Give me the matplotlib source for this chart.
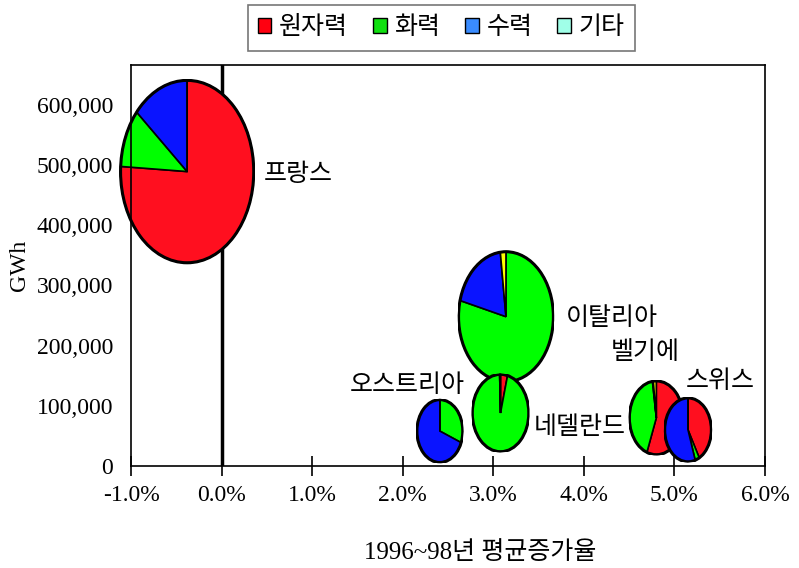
import matplotlib
matplotlib.use("Agg")
import matplotlib.pyplot as plt
import numpy as np
from matplotlib.patches import Patch
from matplotlib.ticker import FuncFormatter

# Generation by country: average growth 1996-98 (%), total generation (GWh)
countries = ["프랑스", "이탈리아", "네델란드", "오스트리아", "벨기에", "스위스"]
growth = [-0.38, 3.14, 3.08, 2.41, 4.80, 5.15]
total_gwh = [489000, 248000, 88000, 58000, 80000, 60000]

# Generation mix shares (%)
nuclear = [75.9, 0.0, 4.0, 0.0, 55.7, 42.0]
thermal = [10.4, 79.0, 95.5, 31.0, 42.0, 3.0]
hydro = [13.7, 19.1, 0.0, 69.0, 0.5, 55.0]
other = [0.0, 1.9, 0.5, 0.0, 1.8, 0.0]

source_labels = ["원자력", "화력", "수력", "기타"]
x_ticks = [-1, 0, 1, 2, 3, 4, 5, 6]
y_ticks = [0, 100000, 200000, 300000, 400000, 500000, 600000]

# Country name label anchors (growth %, GWh)
label_x = [0.47, 3.80, 3.45, 1.41, 4.30, 5.12]
label_y = [485000, 246000, 65000, 135000, 189000, 141000]

pie_colors = ["#FF0F1F", "#00FF00", "#0A14FF", "#FFFF00"]
legend_colors = ["#FF0010", "#10E010", "#3A8CFF", "#A0FFE8"]

serif = ["Liberation Serif", "Noto Sans CJK KR"]
kfont = ["Noto Sans CJK KR", "DejaVu Sans"]

fig = plt.figure(figsize=(7.99, 5.68), dpi=100)
ax = fig.add_axes([131 / 799, 1 - 466 / 568, (765 - 131) / 799, (466 - 65) / 568])
ax.set_xlim(-1, 6)
ax.set_ylim(0, 666000)

for sp in ax.spines.values():
    sp.set_linewidth(1.2)
    sp.set_color("black")
ax.spines["left"].set_zorder(10)

ax.set_xticks(x_ticks)
ax.set_yticks(y_ticks)
ax.xaxis.set_major_formatter(FuncFormatter(lambda v, p: f"{v:.1f}%"))
ax.yaxis.set_major_formatter(FuncFormatter(lambda v, p: f"{int(v):,}"))
ax.tick_params(axis="x", direction="inout", length=14, width=1.2, pad=7)
ax.tick_params(axis="y", length=0, pad=13)
for lab in ax.get_xticklabels() + ax.get_yticklabels():
    lab.set_fontfamily(serif)
    lab.set_fontsize(17)

ax.axvline(0, color="black", linewidth=2.5, zorder=1)

# Bubble pies: area proportional to total generation
ref_total = 489000
ref_half_w = 0.75      # in growth-% units
ref_half_h = 154500    # in GWh units
for i in range(len(countries)):
    s = np.sqrt(total_gwh[i] / ref_total)
    hw, hh = ref_half_w * s, ref_half_h * s
    iax = ax.inset_axes([growth[i] - hw, total_gwh[i] - hh, 2 * hw, 2 * hh],
                        transform=ax.transData, zorder=5 + i)
    vals = [nuclear[i], thermal[i], hydro[i], other[i]]
    iax.pie(vals, colors=pie_colors, startangle=90, counterclock=False,
            radius=1, wedgeprops=dict(edgecolor="black", linewidth=1.2))
    iax.add_patch(plt.Circle((0, 0), 1, fill=False, edgecolor="black", linewidth=2.2))
    iax.set_aspect("auto")
    iax.set_xlim(-1.02, 1.02)
    iax.set_ylim(-1.02, 1.02)
    iax.axis("off")
    ax.text(label_x[i], label_y[i], countries[i], fontfamily=kfont, fontsize=18,
            ha="left", va="center", zorder=20)

ax.set_ylabel("GWh", fontfamily=serif, fontsize=17, labelpad=5)
fig.text(480 / 799, 1 - 553 / 568, "1996~98년 평균증가율", fontfamily=serif,
         fontsize=18, ha="center", va="center")

handles = [Patch(facecolor=c, edgecolor="black", linewidth=1) for c in legend_colors]
leg = fig.legend(handles, source_labels, loc="center", bbox_to_anchor=(441 / 799, 1 - 27.5 / 568),
                 ncol=4, frameon=True, fancybox=False, edgecolor="#555555",
                 prop={"family": kfont, "size": 18}, handlelength=0.55, handleheight=0.55,
                 handletextpad=0.3, columnspacing=1.0, borderpad=0.4)
leg.get_frame().set_linewidth(1.2)

fig.savefig("out.png", dpi=100)
